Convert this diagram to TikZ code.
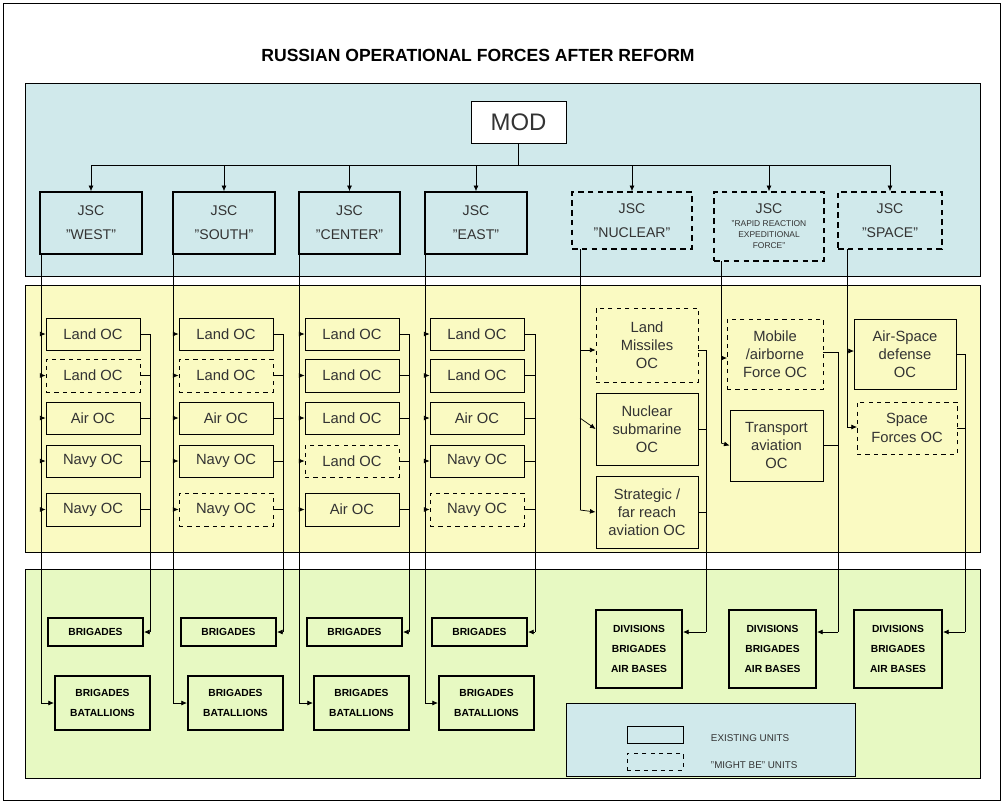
\documentclass[tikz,border=0pt]{standalone}
\usepackage{fontspec}
\setmainfont{Liberation Sans}
\usetikzlibrary{arrows.meta}
\definecolor{bandB}{HTML}{D0E9EB}
\definecolor{bandY}{HTML}{FAFAC2}
\definecolor{bandG}{HTML}{E7F9C2}
\definecolor{tx}{HTML}{333333}
\newcommand{\bx}[7]{\node[#6,minimum width={(#4-#2)*0.025cm},minimum height={(#5-#3)*0.025cm}] (#1) at ({(#2+#4)/2},{(#3+#5)/2}) {#7};}
\tikzset{
 band/.style={draw=black,line width=0.6pt},
 sb/.style={draw=black,line width=0.6pt,inner sep=0pt,align=center,text=tx,font=\fontsize{10.5}{13}\selectfont},
 db/.style={sb,dashed},
 jsc/.style={draw=black,line width=1.1pt,inner sep=0pt,align=center,text=tx,font=\fontsize{10}{17}\selectfont},
 djsc/.style={jsc,dash pattern=on 4pt off 3pt},
 bb/.style={draw=black,line width=1.5pt,inner sep=0pt,align=center,font=\bfseries\fontsize{7.3}{14.5}\selectfont},
 ar/.style={line width=0.5pt,-{Latex[length=4pt,width=3.5pt]}},
 ln/.style={line width=0.5pt},
}
\begin{document}
\begin{tikzpicture}[x=0.025cm,y=-0.025cm]
\useasboundingbox (0,0) rectangle (1004,804);
\draw[line width=0.5pt,fill=white] (3,3) rectangle (1000,800);
\node[font=\bfseries\fontsize{12.5}{14}\selectfont] (title) at (478,55) {RUSSIAN OPERATIONAL FORCES AFTER REFORM};
\draw[band,fill=bandB] (25,83) rectangle (980,276);
\draw[band,fill=bandY] (25,285) rectangle (980,552);
\draw[band,fill=bandG] (25,569) rectangle (980,778);
% top
\bx{mod}{471}{101}{566}{143}{sb,fill=white,font=\fontsize{17}{20}\selectfont}{MOD}
\bx{jw}{40}{192}{142}{254}{jsc}{JSC\\"WEST"}
\bx{js}{173}{192}{275}{254}{jsc}{JSC\\"SOUTH"}
\bx{jc}{299}{192}{400}{254}{jsc}{JSC\\"CENTER"}
\bx{je}{425}{192}{527}{254}{jsc}{JSC\\"EAST"}
\bx{jn}{572}{192}{692}{249}{djsc}{JSC\\"NUCLEAR"}
\bx{jr}{714}{192}{824}{261}{djsc,font=\fontsize{10}{11}\selectfont}{JSC\\[-2pt]{\fontsize{6}{8}\selectfont "RAPID REACTION}\\[-3pt]{\fontsize{6}{8}\selectfont EXPEDITIONAL}\\[-3pt]{\fontsize{6}{8}\selectfont FORCE"}}
\bx{jp}{838}{192}{942}{249}{djsc}{JSC\\"SPACE"}
\coordinate (hb) at (mod.south |- 0,165);
\draw[ln] (mod.south) -- (hb);
\draw[ln] (jw.north |- hb) -- (jp.north |- hb);
\foreach \j in {jw,js,jc,je,jn,jr,jp} \draw[ar] (\j.north |- hb) -- (\j.north);
% left four columns
\foreach \c/\xl/\xo/\xr/\bl/\bbl/\tA/\tB/\tC/\tD/\tE/\sA/\sB/\sC/\sD/\sE in {
 w/41/46/150/48/55/Land OC/Land OC/Air OC/Navy OC/Navy OC/sb/db/sb/sb/sb,
 s/173/179/283/181/188/Land OC/Land OC/Air OC/Navy OC/Navy OC/sb/db/sb/sb/db,
 c/299/305/409/307/314/Land OC/Land OC/Land OC/Land OC/Air OC/sb/sb/sb/db/sb,
 e/425/430/535/432/439/Land OC/Land OC/Air OC/Navy OC/Navy OC/sb/sb/sb/sb/db}{
 \pgfmathsetmacro{\xe}{\xo+94}
 \pgfmathsetmacro{\be}{\bl+95}
 \pgfmathsetmacro{\bbe}{\bbl+95}
 \bx{o\c1}{\xo}{318}{\xe}{350}{\sA}{\tA}
 \bx{o\c2}{\xo}{359}{\xe}{392}{\sB}{\tB}
 \bx{o\c3}{\xo}{402}{\xe}{434}{\sC}{\tC}
 \bx{o\c4}{\xo}{445}{\xe}{477}{\sD}{\tD}
 \bx{o\c5}{\xo}{493}{\xe}{526}{\sE}{\tE}
 \bx{b\c}{\bl}{618}{\be}{646}{bb}{BRIGADES}
 \bx{bb\c}{\bbl}{676}{\bbe}{730}{bb}{BRIGADES\\BATALLIONS}
 \coordinate (t\c) at (\xl,254);
 \coordinate (r\c) at (\xr,632);
 \draw[ar] (t\c) |- (bb\c.west);
 \foreach \i in {1,...,5}{
  \draw[ar] (t\c |- o\c\i.west) -- (o\c\i.west);
  \draw[ln] (o\c\i.east) -| (r\c);
 }
 \draw[ar] (r\c) -- (r\c -| b\c.east);
}
% nuclear
\bx{n1}{596}{308}{698}{382}{db}{Land\\Missiles\\OC}
\bx{n2}{596}{393}{698}{465}{sb}{Nuclear\\submarine\\OC}
\bx{n3}{596}{476}{698}{548}{sb}{Strategic /\\far reach\\aviation OC}
\bx{dn}{596}{610}{682}{688}{bb}{DIVISIONS\\BRIGADES\\AIR BASES}
\coordinate (tn) at (580,249);
\coordinate (rn) at (706,632);
\draw[ln] (tn) -- (580,510);
\draw[ar] (580,350) -- (580,350 -| n1.west);
\draw[ar] (580,418) -- (n2.west);
\draw[ar] (580,510) -- (n3.west);
\draw[ln] (n1.east |- 0,350) -| (rn);
\draw[ln] (n2.east) -| (rn);
\draw[ln] (n3.east) -| (rn);
\draw[ar] (rn) -- (rn -| dn.east);
% rapid
\bx{m1}{727}{319}{823}{389}{db}{Mobile\\/airborne\\Force OC}
\bx{m2}{730}{410}{823}{481}{sb}{Transport\\aviation\\OC}
\bx{dr}{729}{610}{816}{688}{bb}{DIVISIONS\\BRIGADES\\AIR BASES}
\coordinate (tr) at (721,261);
\coordinate (rr) at (838,632);
\draw[ln] (tr) -- (721,443);
\draw[ar] (721,358) -- (727,358);
\draw[ar] (721,443) -- (m2.west);
\draw[ln] (823,352) -| (rr);
\draw[ln] (m2.east) -| (rr);
\draw[ar] (rr) -- (rr -| dr.east);
% space
\bx{p1}{854}{319}{956}{389}{sb}{Air-Space\\defense\\OC}
\bx{p2}{857}{402}{957}{454}{db}{Space\\Forces OC}
\bx{dp}{854}{610}{942}{688}{bb}{DIVISIONS\\BRIGADES\\AIR BASES}
\coordinate (tp) at (847,249);
\coordinate (rp) at (965,632);
\draw[ln] (tp) -- (847,427);
\draw[ar] (847,351) -- (854,351);
\draw[ar] (847,427) -- (857,427);
\draw[ln] (p1.east) -| (rp);
\draw[ln] (p2.east) -| (rp);
\draw[ar] (rp) -- (rp -| dp.east);
% legend
\draw[band,fill=bandB] (566,703) rectangle (855,776);
\bx{l1}{627}{726}{683}{743}{sb}{}
\bx{l2}{627}{753}{683}{770}{db}{}
\node[anchor=west,font=\fontsize{7}{8}\selectfont,text=tx] (lt1) at (706,738) {EXISTING UNITS};
\node[anchor=west,font=\fontsize{7}{8}\selectfont,text=tx] (lt2) at (706,765) {"MIGHT BE" UNITS};
\end{tikzpicture}
\end{document}
